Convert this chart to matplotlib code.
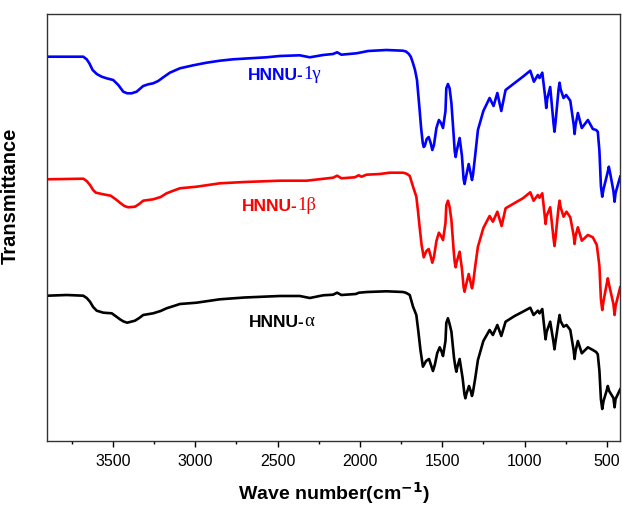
import matplotlib
matplotlib.use('Agg')
import matplotlib.pyplot as plt
from matplotlib.ticker import MultipleLocator

plt.rcParams['font.family'] = ['Liberation Sans', 'DejaVu Sans']

# (wave number cm-1, transmittance a.u.)
gamma = [(3896, 384.3), (3680, 384.3), (3659, 381.7), (3643, 377.7), (3623, 371), (3598, 367),
         (3568, 364.3), (3538, 362.7), (3498, 361), (3467, 356), (3437, 349.3), (3413, 347.7),
         (3386, 347.7), (3356, 349.3), (3316, 355), (3285, 356.7), (3255, 357.7), (3225, 360),
         (3194, 363.7), (3154, 368.3), (3093, 372.7), (3012, 375.7), (2931, 378.3), (2850, 380.3),
         (2770, 381.7), (2668, 382.7), (2567, 383.7), (2486, 385), (2365, 385.7), (2304, 383.7),
         (2223, 386), (2163, 387), (2138, 388.7), (2112, 386.3), (2021, 387.7), (2001, 388.3),
         (1950, 390), (1839, 391), (1738, 390.3), (1720, 389.5), (1702, 387), (1690, 384),
         (1677, 377.7), (1665, 371), (1653, 361), (1645, 346), (1637, 331), (1628, 313),
         (1618, 298), (1612, 294), (1606, 295), (1594, 302), (1582, 304), (1570, 298),
         (1560, 291), (1550, 296), (1535, 313), (1520, 321), (1507, 318), (1495, 313),
         (1480, 330), (1475, 352.7), (1465, 357), (1455, 352.7), (1444, 338), (1430, 305),
         (1424, 290), (1418, 284), (1412, 290), (1394, 303), (1380, 285), (1370, 262),
         (1364, 257), (1358, 262), (1339, 277), (1325, 266), (1319, 261), (1313, 266),
         (1300, 285), (1283, 311), (1250, 330), (1212, 343), (1188, 335), (1165, 348),
         (1141, 330), (1115, 351), (1060, 358), (1010, 364.3), (965, 370.3), (943, 359.3),
         (919, 366), (909, 363), (892, 368.3), (873, 342), (868, 333), (862, 342),
         (844, 354), (824, 318), (818, 309.3), (812, 318), (793, 352), (787, 358.3),
         (781, 352), (763, 343), (747, 346), (722, 340.3), (701, 316), (696, 307),
         (690, 316), (676, 328), (652, 313), (615, 321), (585, 312), (565, 311),
         (555, 309.3), (545, 290), (536, 255), (528, 244.3), (520, 252), (496, 268),
         (488, 274.3), (480, 268), (460, 250), (453, 239.3), (447, 248), (419, 264.3)]

beta = [(3898, 261.7), (3680, 262.3), (3659, 260), (3639, 256), (3620, 251), (3603, 248.3),
        (3558, 246.7), (3513, 245.3), (3485, 242), (3457, 238.3), (3430, 235), (3407, 233.7),
        (3366, 234.3), (3340, 237), (3316, 240.3), (3255, 241.7), (3210, 244), (3174, 247.7),
        (3130, 250.5), (3093, 252.7), (2992, 254.3), (2850, 257.7), (2700, 259), (2486, 260.3),
        (2324, 260.3), (2163, 263.3), (2138, 265.3), (2112, 262.7), (2031, 263.7), (2007, 265.7),
        (1990, 264.3), (1960, 266.3), (1879, 267), (1819, 268.3), (1738, 268.3), (1720, 267.5),
        (1707, 266.3), (1697, 265), (1677, 254.3), (1657, 244.3), (1647, 230), (1637, 214),
        (1625, 196), (1612, 183.7), (1596, 190), (1582, 192), (1570, 185), (1560, 178.3),
        (1550, 184), (1535, 200), (1520, 208.3), (1507, 205), (1495, 201), (1480, 218),
        (1475, 235.5), (1465, 240.3), (1455, 234), (1444, 221), (1430, 190), (1424, 179),
        (1418, 173.7), (1412, 179), (1394, 189.3), (1380, 172), (1370, 154), (1364, 149.3),
        (1358, 154), (1339, 167), (1325, 157), (1319, 152.7), (1313, 157), (1300, 174),
        (1283, 194.3), (1250, 213), (1212, 225), (1192, 219.3), (1165, 229.3), (1139, 215),
        (1115, 232.7), (1060, 238), (1010, 242.7), (965, 248.7), (945, 240.3), (919, 246),
        (909, 243.3), (892, 247.7), (877, 225), (872, 217), (866, 225), (844, 233.7),
        (824, 203), (818, 195), (812, 203), (793, 234), (787, 240.3), (781, 234),
        (763, 224.3), (745, 229.3), (722, 223.7), (701, 205), (696, 197), (690, 205),
        (676, 213.7), (652, 200.3), (615, 206), (585, 203.7), (561, 196), (545, 175),
        (536, 142), (528, 131), (520, 140), (502, 156), (494, 162.7), (486, 156),
        (460, 137), (453, 126), (447, 135), (419, 153.7)]

alpha = [(3898, 145.3), (3780, 146), (3680, 145.3), (3659, 143), (3639, 139.3), (3620, 134),
         (3598, 130.3), (3558, 128.3), (3507, 127.7), (3480, 124.5), (3457, 121.7), (3435, 119.5),
         (3413, 118.3), (3366, 120.3), (3340, 123), (3316, 126), (3255, 127.7), (3210, 130),
         (3174, 132.7), (3130, 135), (3093, 137), (2992, 138.3), (2850, 141.7), (2700, 143.5),
         (2486, 145), (2365, 145), (2304, 143), (2223, 145.7), (2163, 146.3), (2138, 148.3),
         (2112, 146), (2025, 147), (2005, 148.3), (1956, 149), (1839, 149.7), (1738, 149),
         (1720, 148.2), (1707, 147), (1697, 146), (1677, 134.3), (1657, 126), (1645, 110),
         (1632, 91), (1617, 74.3), (1598, 80), (1580, 82), (1568, 76), (1556, 70),
         (1545, 76), (1530, 88), (1515, 93.7), (1505, 90), (1495, 85), (1480, 100),
         (1475, 118), (1465, 122.7), (1455, 117), (1444, 109.3), (1428, 83), (1420, 74),
         (1414, 69.3), (1408, 74), (1394, 82), (1376, 63), (1365, 47), (1359, 42.7),
         (1353, 47), (1337, 55), (1325, 49), (1319, 45), (1313, 49), (1300, 62),
         (1283, 81), (1250, 100), (1212, 111), (1192, 106), (1165, 116), (1141, 105),
         (1115, 119.3), (1060, 125), (1010, 129.3), (965, 133.3), (945, 126), (919, 130.3),
         (909, 127.7), (892, 132), (877, 109), (872, 101.7), (866, 109), (844, 119.3),
         (824, 99), (818, 91.7), (812, 99), (793, 120), (787, 126), (781, 120),
         (763, 114.3), (745, 116), (722, 111), (701, 90), (696, 82), (690, 90),
         (676, 100), (652, 87.7), (615, 93.7), (585, 91), (565, 89), (555, 86.7),
         (545, 70), (536, 42), (528, 32), (520, 40), (502, 50), (494, 55),
         (486, 50), (460, 43), (453, 33.7), (447, 42), (419, 51.7)]

fig = plt.figure(figsize=(6.22, 5.09), dpi=100)
ax = fig.add_axes([0.0756, 0.1336, 0.9212, 0.8389])

for data, col in [(gamma, '#0000ff'), (beta, '#ff0000'), (alpha, 'black')]:
    x, y = zip(*data)
    ax.plot(x, y, color=col, lw=1.9, solid_joinstyle='round')

ax.set_xlim(3900, 420)
ax.set_ylim(0, 427)
ax.xaxis.set_major_locator(MultipleLocator(500))
ax.xaxis.set_minor_locator(MultipleLocator(250))
ax.set_yticks([])
ax.tick_params(axis='x', which='major', length=4.5, width=1, labelsize=11.5, pad=5)
ax.tick_params(axis='x', which='minor', length=2.5, width=1)
for s in ax.spines.values():
    s.set_linewidth(1)
    s.set_color('#333333')

ax.set_xlabel('Wave number(cm$^{\\mathbf{-1}}$)', fontsize=14, fontweight='bold', labelpad=8)
ax.set_ylabel('Transmittance', fontsize=14.5, fontweight='bold')
ax.yaxis.set_label_coords(-0.047, 0.574)

# sample labels: bold "HNNU-" followed by a serif suffix
labels = [('HNNU-', '1\u03b3', '#0000ff', 2680, 365),
          ('HNNU-', '1\u03b2', '#ff0000', 2717, 234),
          ('HNNU-', '\u03b1', 'black', 2674, 118.3)]
for head, tail, col, x, y in labels:
    t1 = ax.text(x, y, head, color=col, fontsize=12.5, fontweight='bold',
                 ha='left', va='center')
    ax.annotate(tail, xy=(1, 0), xycoords=t1, color=col, fontsize=13.5,
                family='Liberation Serif', ha='left', va='bottom')

fig.savefig('out.png', dpi=100)
